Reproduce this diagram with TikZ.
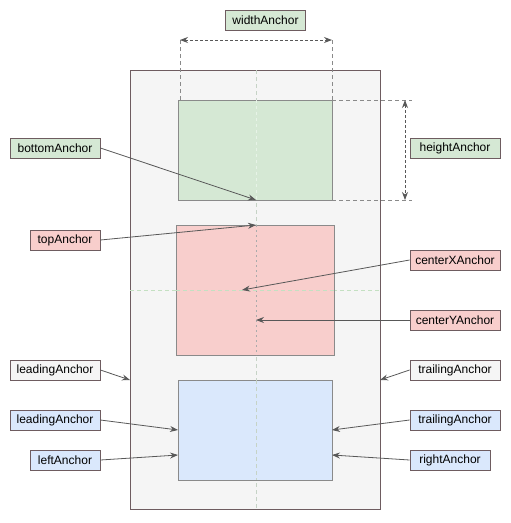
\documentclass[tikz,border=0pt]{standalone}
\usepackage{fontspec}
\setmainfont{Liberation Sans}
\usetikzlibrary{arrows.meta}
\definecolor{greenfill}{HTML}{D5E8D4}
\definecolor{redfill}{HTML}{F8CECC}
\definecolor{bluefill}{HTML}{DAE8FC}
\definecolor{grayfill}{HTML}{F5F5F5}
\definecolor{framecol}{HTML}{6E5C60}
\definecolor{boxline}{HTML}{8A8A8A}
\definecolor{arrowcol}{HTML}{585858}
\definecolor{guidegreen}{HTML}{C4E0C2}
\definecolor{guidegray}{HTML}{C6D3C6}
\tikzset{
  lbl/.style={draw=framecol, line width=0.8pt, minimum height=20pt, inner sep=0pt,
    font=\fontsize{12}{14}\selectfont, text=black},
  greenlbl/.style={lbl, fill=greenfill},
  redlbl/.style={lbl, fill=redfill},
  bluelbl/.style={lbl, fill=bluefill},
  graylbl/.style={lbl, fill=grayfill},
  area/.style={draw=boxline, line width=0.8pt},
  pointer/.style={draw=arrowcol, line width=0.8pt, -{Stealth[length=8pt,width=6pt]}},
  measure/.style={draw=arrowcol, line width=0.8pt, dashed, dash pattern=on 3pt off 2pt,
    {Stealth[length=8pt,width=6pt]}-{Stealth[length=8pt,width=6pt]}},
  guide/.style={draw=arrowcol!70, line width=0.7pt, dash pattern=on 4pt off 3pt},
  centerline/.style={draw=guidegreen, line width=0.7pt, dash pattern=on 4pt off 3pt},
  vcenterline/.style={draw=guidegray, line width=0.7pt, dash pattern=on 4pt off 3pt},
}
\begin{document}
\begin{tikzpicture}[x=1pt,y=-1pt]
\useasboundingbox (0,0) rectangle (511,523);

% container view
\node[draw=framecol, fill=grayfill, line width=0.9pt, minimum width=250pt, minimum height=439pt,
  inner sep=0pt, anchor=north west] (view) at (130,70) {};

% center guides
\draw[vcenterline] (256,70) -- (256,509);
\draw[centerline] (130,290) -- (380,290);

% subviews
\node[area, fill=greenfill, minimum width=154pt, minimum height=100pt, inner sep=0pt, anchor=north west] (gbox) at (178,100) {};
\node[area, fill=redfill, minimum width=158pt, minimum height=130pt, inner sep=0pt, anchor=north west] (rbox) at (176,225) {};
\node[area, fill=bluefill, minimum width=154pt, minimum height=100pt, inner sep=0pt, anchor=north west] (bbox) at (178,380) {};
\draw[draw=white!60!guidegreen, line width=0.6pt, dash pattern=on 3pt off 3pt] (256,100) -- (256,200);
\draw[vcenterline] (256,380) -- (256,480);
\draw[draw=arrowcol!50, line width=0.6pt, dash pattern=on 2pt off 3pt] (256,225) -- (256,355);
\draw[centerline] (176,290) -- (334,290);

% measurement guides
\coordinate (wl) at (180,40);
\coordinate (wr) at (332,40);
\coordinate (ht) at (405,100);
\coordinate (hb) at (405,200);
\draw[guide] (180,40) -- (180,100);
\draw[guide] (332,40) -- (332,100);
\draw[guide] (332,100) -- (412,100);
\draw[guide] (332,200) -- (412,200);
\draw[measure] (wl) -- (wr);
\draw[measure] (ht) -- (hb);

% labels
\node[greenlbl, minimum width=80pt] (width) at (265.5,20) {widthAnchor};
\node[greenlbl, minimum width=90pt] (bottom) at (55,148) {bottomAnchor};
\node[greenlbl, minimum width=90pt] (height) at (455,148) {heightAnchor};
\node[redlbl, minimum width=70pt] (top) at (65,240) {topAnchor};
\node[redlbl, minimum width=90pt] (cx) at (455,260) {centerXAnchor};
\node[redlbl, minimum width=90pt] (cy) at (455,320) {centerYAnchor};
\node[graylbl, minimum width=90pt] (lead) at (55,370) {leadingAnchor};
\node[graylbl, minimum width=90pt] (trail) at (455,370) {trailingAnchor};
\node[bluelbl, minimum width=90pt] (leadb) at (55,420) {leadingAnchor};
\node[bluelbl, minimum width=90pt] (trailb) at (455,420) {trailingAnchor};
\node[bluelbl, minimum width=70pt] (left) at (65,460) {leftAnchor};
\node[bluelbl, minimum width=80pt] (right) at (450,460) {rightAnchor};

% pointer targets
\coordinate (tBottom) at (256,200);
\coordinate (tTop) at (256,225);
\coordinate (tCX) at (242,290);
\coordinate (tCY) at (256,320);
\coordinate (tLead) at (130,380);
\coordinate (tTrail) at (380,380);
\coordinate (tLeadB) at (178,430);
\coordinate (tTrailB) at (332,430);
\coordinate (tLeft) at (178,455);
\coordinate (tRight) at (332,455);

\draw[pointer] (bottom.east) -- (tBottom);
\draw[pointer] (top.east) -- (tTop);
\draw[pointer] (cx.west) -- (tCX);
\draw[pointer] (cy.west) -- (tCY);
\draw[pointer] (lead.east) -- (tLead);
\draw[pointer] (trail.west) -- (tTrail);
\draw[pointer] (leadb.east) -- (tLeadB);
\draw[pointer] (trailb.west) -- (tTrailB);
\draw[pointer] (left.east) -- (tLeft);
\draw[pointer] (right.west) -- (tRight);
\end{tikzpicture}
\end{document}
